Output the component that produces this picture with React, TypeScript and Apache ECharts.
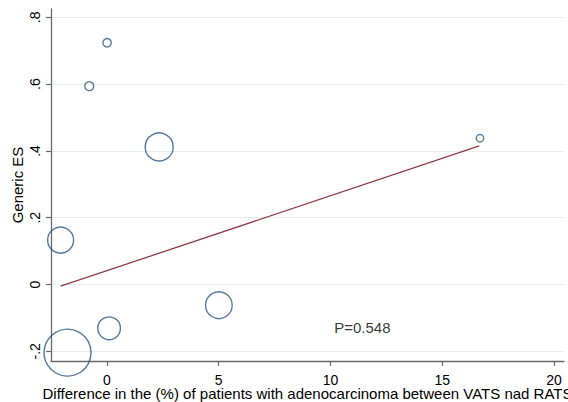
import { useEffect, useRef } from "react";
import * as echarts from "echarts";

// Per-study difference in adenocarcinoma share (VATS vs RATS, percentage points)
const studyDiff = [0.01, -0.79, 2.34, -2.07, 5.01, 0.1, -1.76, 16.69];
// Per-study generic effect size
const studyES = [0.724, 0.594, 0.412, 0.133, -0.062, -0.131, -0.204, 0.438];
// Per-study weights (bubble area)
const studyWeight = [18, 20, 196, 169, 177, 128, 552, 14];
// Fitted meta-regression line
const fitX = [-2.07, 16.66];
const fitY = [-0.005, 0.415];
// Axis ticks
const xTicks = [0, 5, 10, 15, 20];
const yTicks = [-0.2, 0, 0.2, 0.4, 0.6, 0.8];
// Annotation
const pLabel = "P=0.548";
const pPos = [11.43, -0.129];

const FONT = "'Liberation Sans', Arial, sans-serif";
const AXIS_COLOR = "#6a6a6a";

function stataNum(v: number): string {
  if (Math.abs(v) < 1e-9) return "0";
  const s = Math.abs(v).toFixed(1).replace(/^0/, "");
  return (v < 0 ? "-" : "") + s;
}

export default function App() {
  const ref = useRef<HTMLDivElement>(null);

  useEffect(() => {
    if (!ref.current) return;
    const chart = echarts.init(ref.current, undefined, { renderer: "svg" });
    chart.setOption({
      animation: false,
      backgroundColor: "#ffffff",
      grid: { left: 51, right: 4, top: 9, bottom: 41, outerBoundsMode: "none" },
      xAxis: {
        type: "value",
        min: -2.5,
        max: 20.45,
        name: "Difference in the (%) of patients with adenocarcinoma between VATS nad RATS",
        nameLocation: "middle",
        nameGap: 27,
        nameMoveOverlap: false,
        nameTextStyle: { fontSize: 15, lineHeight: 11, color: "#000", fontFamily: FONT },
        axisLine: { show: true, onZero: false, lineStyle: { color: AXIS_COLOR, width: 1.3 } },
        axisTick: { show: true, customValues: xTicks, length: 5, lineStyle: { color: AXIS_COLOR, width: 1.2 } },
        axisLabel: { customValues: xTicks, fontSize: 14, lineHeight: 11, color: "#000", margin: 13, fontFamily: FONT },
        splitLine: { show: false },
      },
      yAxis: {
        type: "value",
        min: -0.229,
        max: 0.825,
        name: "Generic ES",
        nameLocation: "middle",
        nameGap: 26,
        nameMoveOverlap: false,
        nameTextStyle: { fontSize: 15, color: "#000", fontFamily: FONT },
        axisLine: { show: true, onZero: false, lineStyle: { color: AXIS_COLOR, width: 1.3 } },
        axisTick: { show: true, customValues: yTicks, length: 5, lineStyle: { color: AXIS_COLOR, width: 1.2 } },
        axisLabel: {
          customValues: yTicks,
          rotate: 90,
          fontSize: 14,
          color: "#000",
          margin: 9,
          fontFamily: FONT,
          formatter: (v: number) => stataNum(v),
        },
        splitLine: { show: true, lineStyle: { color: "#e5eded", width: 1 } },
      },
      series: [
        {
          type: "scatter",
          clip: false,
          data: studyDiff.map((x, i) => [x, studyES[i], studyWeight[i]]),
          symbol: "circle",
          symbolSize: (d: number[]) => 2 * Math.sqrt(d[2]),
          itemStyle: { color: "rgba(0,0,0,0)", borderColor: "#2a5786", borderWidth: 1.4 },
          z: 3,
        },
        {
          type: "line",
          data: fitX.map((x, i) => [x, fitY[i]]),
          showSymbol: false,
          symbol: "none",
          lineStyle: { color: "#8f3a45", width: 1.3 },
          z: 2,
        },
        {
          type: "scatter",
          data: [pPos],
          symbolSize: 0,
          label: {
            show: true,
            position: "inside",
            formatter: pLabel,
            fontSize: 15,
            color: "#000",
            fontFamily: FONT,
          },
        },
      ],
    });
    return () => chart.dispose();
  }, []);

  return (
    <div
      ref={ref}
      style={{ position: "fixed", left: 0, top: 0, width: 568, height: 402 }}
    />
  );
}
